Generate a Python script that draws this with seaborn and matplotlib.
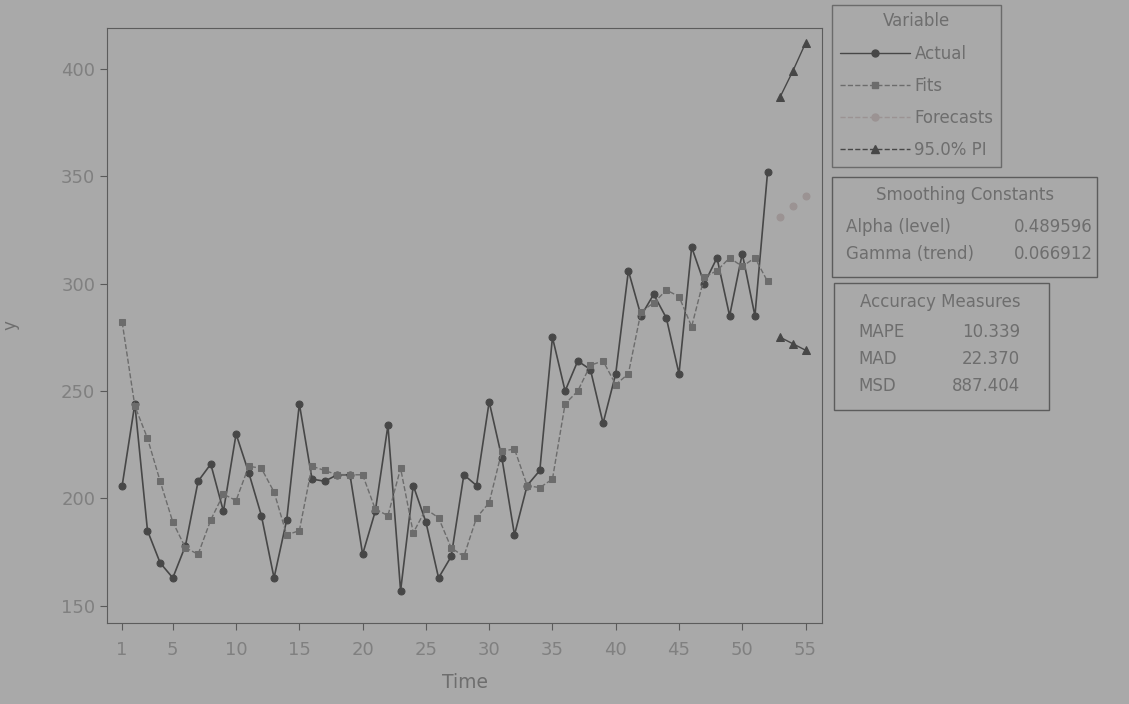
import numpy as np
import pandas as pd
import matplotlib
matplotlib.use("Agg")
import matplotlib.pyplot as plt
import seaborn as sns
from matplotlib.patches import Rectangle
from matplotlib.lines import Line2D

# values
time_obs = list(range(1, 53))
actual = [206, 244, 185, 170, 163, 178, 208, 216, 194, 230,
          212, 192, 163, 190, 244, 209, 208, 211, 211, 174,
          194, 234, 157, 206, 189, 163, 173, 211, 206, 245,
          219, 183, 206, 213, 275, 250, 264, 260, 235, 258,
          306, 285, 295, 284, 258, 317, 300, 312, 285, 314,
          285, 352]
fits = [282, 243, 228, 208, 189, 177, 174, 190, 202, 199,
        215, 214, 203, 183, 185, 215, 213, 211, 211, 211,
        195, 192, 214, 184, 195, 191, 177, 173, 191, 198,
        222, 223, 206, 205, 209, 244, 250, 262, 264, 253,
        258, 287, 291, 297, 294, 280, 303, 306, 312, 308,
        312, 301]
time_fc = [53, 54, 55]
forecasts = [331, 336, 341]
pi_upper = [387, 399, 412]
pi_lower = [275, 272, 269]

x_ticks = [1, 5, 10, 15, 20, 25, 30, 35, 40, 45, 50, 55]
y_ticks = [150, 200, 250, 300, 350, 400]

smoothing = [("Alpha (level)", "0.489596"), ("Gamma (trend)", "0.066912")]
accuracy = [("MAPE", "10.339"), ("MAD", "22.370"), ("MSD", "887.404")]

bg = "#a9a9a9"
ink = "#5a5a5a"
txt = "#6e6e6e"
sns.set_style("ticks")
plt.rcParams["font.family"] = ["DejaVu Sans"]

fig = plt.figure(figsize=(11.29, 7.04), dpi=100, facecolor=bg)
ax = fig.add_axes([107 / 1129, 1 - 623 / 704, (822 - 107) / 1129, (623 - 28) / 704])
ax.set_facecolor(bg)

c_act, c_fit, c_fc, c_pi = "#474747", "#6c6c6c", "#9b9393", "#474747"

sns.lineplot(x=time_obs, y=actual, ax=ax, color=c_act, lw=1.2, marker="o",
             markersize=5, markeredgecolor=c_act, label="Actual")
sns.lineplot(x=time_obs, y=fits, ax=ax, color=c_fit, lw=1.0, linestyle="--",
             marker="s", markersize=4.5, markeredgecolor=c_fit, label="Fits")
sns.lineplot(x=time_fc, y=forecasts, ax=ax, color=c_fc, lw=0, marker="o",
             markersize=5, markeredgecolor=c_fc, label="Forecasts")
sns.lineplot(x=time_fc, y=pi_upper, ax=ax, color=c_pi, lw=1.0, marker="^",
             markersize=6, markeredgecolor=c_pi, label="95.0% PI")
sns.lineplot(x=time_fc, y=pi_lower, ax=ax, color=c_pi, lw=1.0, marker="^",
             markersize=6, markeredgecolor=c_pi)

ax.set_xlim(-0.2, 56.3)
ax.set_ylim(142, 419)
ax.set_xticks(x_ticks)
ax.set_yticks(y_ticks)
ax.tick_params(colors=ink, labelsize=13, length=5, labelcolor="#808080")
ax.tick_params(axis="x", pad=8)
for s in ax.spines.values():
    s.set_color("#5c5c5c")
    s.set_visible(True)
ax.set_xlabel("Time", fontsize=13.5, color=txt, labelpad=10)
ax.set_ylabel("y", fontsize=12, color=txt, rotation=90, labelpad=30)
ax.get_legend().remove()

# legend box
handles = [
    Line2D([], [], color=c_act, lw=1.0, marker="o", markersize=5),
    Line2D([], [], color=c_fit, lw=1.0, ls="--", marker="s", markersize=4.5),
    Line2D([], [], color=c_fc, lw=1.0, ls="--", marker="o", markersize=5),
    Line2D([], [], color=c_pi, lw=1.0, ls="--", marker="^", markersize=6),
]
leg = fig.legend(handles, ["Actual", "Fits", "Forecasts", "95.0% PI"], title="Variable",
                 loc="upper left", bbox_to_anchor=(832 / 1129, 1 - 5 / 704),
                 frameon=True, fancybox=False, fontsize=12, title_fontsize=12,
                 handlelength=4.2, labelspacing=0.85, borderpad=0.45, handletextpad=0.3,
                 borderaxespad=0)
leg.get_frame().set_facecolor(bg)
leg.get_frame().set_edgecolor("#5c5c5c")
leg.get_frame().set_linewidth(1.0)
for t in leg.get_texts():
    t.set_color(txt)
leg.get_title().set_color(txt)


def px(x, y):
    return x / 1129, 1 - y / 704


def box(x0, y0, x1, y1):
    fx0, fy1 = px(x0, y1)
    fig.patches.append(Rectangle((fx0, fy1), (x1 - x0) / 1129, (y1 - y0) / 704,
                                 transform=fig.transFigure, fill=False,
                                 edgecolor="#5c5c5c", lw=1.0))


box(832, 177, 1097, 277)
fig.text(*px(965, 195), "Smoothing Constants", ha="center", va="center",
         fontsize=12, color=txt)
for i, (name, val) in enumerate(smoothing):
    y = 227 + i * 27
    fig.text(*px(846, y), name, ha="left", va="center", fontsize=12, color=txt)
    fig.text(*px(1093, y), val, ha="right", va="center", fontsize=12, color=txt)

box(834, 283, 1049, 410)
fig.text(*px(940, 302), "Accuracy Measures", ha="center", va="center",
         fontsize=12, color=txt)
for i, (name, val) in enumerate(accuracy):
    y = 332 + i * 27
    fig.text(*px(858, y), name, ha="left", va="center", fontsize=12, color=txt)
    fig.text(*px(1020, y), val, ha="right", va="center", fontsize=12, color=txt)

fig.savefig("out.png", dpi=100, facecolor=bg)
